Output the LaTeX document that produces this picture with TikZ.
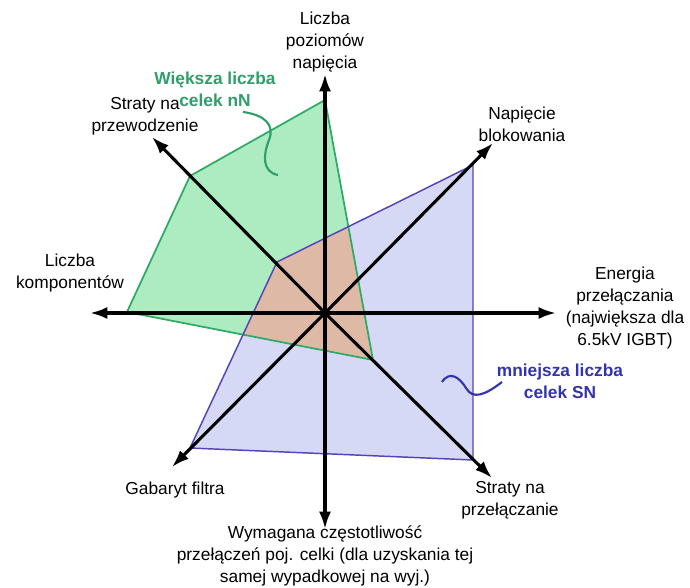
\documentclass[tikz,border=0pt]{standalone}
\usepackage{fontspec}
\setmainfont{Liberation Sans}
\usetikzlibrary{arrows.meta}

\definecolor{gfill}{RGB}{172,236,192}
\definecolor{gline}{RGB}{46,170,100}
\definecolor{gtext}{RGB}{46,158,106}
\definecolor{bfill}{RGB}{214,217,245}
\definecolor{bline}{RGB}{84,68,184}
\definecolor{btext}{RGB}{52,52,170}
\definecolor{ofill}{RGB}{222,186,166}

\begin{document}
\begin{tikzpicture}[>={Latex[length=13pt,width=9pt]}, x=0.75pt, y=-0.75pt,
  font=\fontsize{13}{16.5}\selectfont,
  axis/.style={->, line width=2.3pt},
  lbl/.style={align=center, inner sep=0pt},
  note/.style={align=center, inner sep=0pt, font=\fontsize{13}{16.5}\selectfont\bfseries}]

\useasboundingbox (0,0) rectangle (690,588);

% centre and ends of the axes
\coordinate (O) at (325,313);
\coordinate (N) at (325,74);
\coordinate (S) at (325,529);
\coordinate (W) at (90,313);
\coordinate (E) at (556,313);
\coordinate (NE) at (493,143);
\coordinate (SW) at (172,467);
\coordinate (NW) at (152,137);
\coordinate (SE) at (492,478);

% polygons
\fill[gfill] (325,100)--(190,176)--(127,312)--(373,360)--cycle;
\fill[bfill] (473,165)--(473,460)--(190,448)--(277,262)--cycle;
\begin{scope}
\clip (325,100)--(190,176)--(127,312)--(373,360)--cycle;
\fill[ofill] (473,165)--(473,460)--(190,448)--(277,262)--cycle;
\end{scope}
\draw[gline, line width=1.3pt] (325,100)--(190,176)--(127,312)--(373,360)--cycle;
\draw[bline, line width=1.1pt] (473,165)--(473,460)--(190,448)--(277,262)--cycle;

% axes
\draw[axis] (O) -- (N);
\draw[axis] (O) -- (S);
\draw[axis] (O) -- (W);
\draw[axis] (O) -- (E);
\draw[axis] (O) -- (NE);
\draw[axis] (O) -- (SW);
\draw[axis] (O) -- (NW);
\draw[axis] (O) -- (SE);

% labels
\node[lbl] (poziomy) at (325,42) {Liczba\\poziomów\\napięcia};
\node[lbl] (blok) at (522,124) {Napięcie\\blokowania};
\node[lbl] (energia) at (625,308) {Energia\\przełączania\\(największa dla\\6.5kV IGBT)};
\node[lbl] (przel) at (510,500) {Straty na\\przełączanie};
\node[lbl] (czest) at (325,556) {Wymagana częstotliwość\\przełączeń poj. celki (dla uzyskania tej\\samej wypadkowej na wyj.)};
\node[lbl] (filtr) at (175,490) {Gabaryt filtra};
\node[lbl] (komp) at (70,273) {Liczba\\komponentów};
\node[lbl] (przew) at (145,116) {Straty na\\przewodzenie};

\node[note, gtext] (nN) at (215,89) {Większa liczba\\celek nN};
\node[note, btext] (SN) at (560,381) {mniejsza liczba\\celek SN};

% wavy pointers
\draw[gtext, line width=1.6pt] (243,112) .. controls (265,115) and (275,125) .. (269,140)
  .. controls (263,155) and (262,172) .. (278,175);
\draw[btext, line width=1.6pt] (442,382) .. controls (450,370) and (460,378) .. (466,388)
  .. controls (473,400) and (485,395) .. (502,382);

\end{tikzpicture}
\end{document}
